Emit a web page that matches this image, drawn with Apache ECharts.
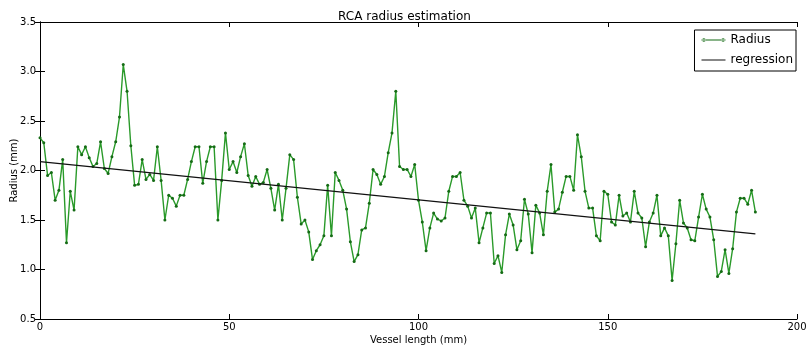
<!DOCTYPE html>
<html>
<head>
<meta charset="utf-8">
<script src="https://cdn.jsdelivr.net/npm/echarts@6/dist/echarts.min.js"></script>
<style>
  html, body { margin: 0; padding: 0; background: #fff; }
  #chart { width: 809px; height: 349px; }
</style>
</head>
<body>
<div id="chart"></div>
<script>
// radius samples, one per mm of vessel length
const radius = [
  2.33, 2.28, 1.95, 1.98, 1.70, 1.80, 2.11, 1.27, 1.79, 1.60,
  2.24, 2.16, 2.24, 2.13, 2.04, 2.07, 2.29, 2.02, 1.97, 2.14,
  2.29, 2.54, 3.07, 2.80, 2.25, 1.85, 1.86, 2.11, 1.91, 1.96,
  1.90, 2.24, 1.90, 1.50, 1.75, 1.72, 1.64, 1.75, 1.75, 1.91,
  2.09, 2.24, 2.24, 1.87, 2.09, 2.24, 2.24, 1.50, 1.90, 2.38,
  2.01, 2.09, 1.98, 2.14, 2.27, 1.95, 1.84, 1.94, 1.86, 1.88,
  2.01, 1.82, 1.60, 1.86, 1.50, 1.82, 2.16, 2.11, 1.73, 1.46,
  1.50, 1.38, 1.10, 1.19, 1.25, 1.34, 1.85, 1.34, 1.98, 1.90,
  1.80, 1.61, 1.28, 1.08, 1.15, 1.40, 1.42, 1.67, 2.01, 1.96,
  1.86, 1.94, 2.18, 2.38, 2.80, 2.04, 2.01, 2.01, 1.94, 2.06,
  1.70, 1.48, 1.19, 1.42, 1.57, 1.51, 1.49, 1.52, 1.79, 1.94,
  1.94, 1.98, 1.70, 1.64, 1.52, 1.62, 1.27, 1.42, 1.57, 1.57,
  1.06, 1.14, 0.97, 1.35, 1.56, 1.45, 1.20, 1.29, 1.71, 1.56,
  1.17, 1.65, 1.57, 1.35, 1.79, 2.06, 1.58, 1.61, 1.78, 1.94,
  1.94, 1.80, 2.36, 2.14, 1.79, 1.62, 1.62, 1.34, 1.29, 1.79,
  1.76, 1.48, 1.45, 1.75, 1.54, 1.57, 1.48, 1.79, 1.57, 1.52,
  1.23, 1.48, 1.57, 1.75, 1.34, 1.42, 1.34, 0.89, 1.26, 1.70,
  1.47, 1.42, 1.30, 1.29, 1.53, 1.76, 1.61, 1.53, 1.30, 0.93,
  0.98, 1.20, 0.96, 1.21, 1.58, 1.72, 1.72, 1.66, 1.80, 1.58
]
// fitted line end points [length, radius]
const regression = [[0, 2.09], [189, 1.36]]

const xTicks = { min: 0, max: 200, interval: 50 }
const yTicks = { min: 0.5, max: 3.5, interval: 0.5 }

const chart = echarts.init(document.getElementById('chart'), null, { renderer: 'canvas' })

const fontFamily = 'DejaVu Sans, sans-serif'
const frameAxis = {
  axisLine: { show: true, lineStyle: { color: '#000', width: 1 } },
  axisTick: { show: true, inside: true, length: 5, lineStyle: { color: '#000' } },
  splitLine: { show: false },
}

// legend icons drawn in a 24x10 box; the tiny corner marks keep the box size
const boxMarks = 'M0,0 L0.01,0 L0,0.01 Z M24,10 L23.99,10 L24,9.99 Z '
const lineIcon = 'path://' + boxMarks + 'M0,4.4 L24,4.4 L24,5.6 L0,5.6 Z'
const lineDotIcon = lineIcon +
  ' M0.6,5 A1.8,1.8 0 1,0 4.2,5 A1.8,1.8 0 1,0 0.6,5 Z' +
  ' M19.8,5 A1.8,1.8 0 1,0 23.4,5 A1.8,1.8 0 1,0 19.8,5 Z'

const option = {
  animation: false,
  backgroundColor: '#fff',
  title: {
    text: 'RCA radius estimation',
    left: 'center',
    top: 6,
    textStyle: { fontFamily, fontSize: 12, fontWeight: 'normal', color: '#000' },
  },
  grid: { left: 40, right: 12, top: 22, bottom: 30, outerBoundsMode: 'none', containLabel: false },
  legend: {
    orient: 'vertical',
    right: 13,
    top: 30,
    itemWidth: 24,
    itemHeight: 10,
    itemGap: 8,
    padding: [4, 3, 5, 7],
    borderColor: '#000',
    borderWidth: 1,
    borderRadius: 0,
    backgroundColor: '#fff',
    textStyle: { fontFamily, fontSize: 12, color: '#000' },
    data: [
      { name: 'Radius', icon: lineDotIcon },
      { name: 'regression', icon: lineIcon },
    ],
  },
  xAxis: [
    {
      type: 'value',
      ...xTicks,
      ...frameAxis,
      name: 'Vessel length (mm)',
      nameLocation: 'middle',
      nameGap: 16,
      nameMoveOverlap: false,
      nameTextStyle: { fontFamily, fontSize: 10, color: '#000' },
      axisLabel: { fontFamily, fontSize: 10, color: '#000', margin: 3 },
    },
    {
      type: 'value',
      position: 'top',
      ...xTicks,
      ...frameAxis,
      axisLabel: { show: false },
    },
  ],
  yAxis: [
    {
      type: 'value',
      ...yTicks,
      ...frameAxis,
      name: 'Radius (mm)',
      nameLocation: 'middle',
      nameGap: 21,
      nameMoveOverlap: false,
      nameTextStyle: { fontFamily, fontSize: 10, color: '#000' },
      axisLabel: {
        fontFamily, fontSize: 10, color: '#000', margin: 4,
        formatter: (v) => v.toFixed(1),
      },
    },
    {
      type: 'value',
      position: 'right',
      ...yTicks,
      ...frameAxis,
      axisLabel: { show: false },
    },
  ],
  series: [
    {
      name: 'Radius',
      type: 'line',
      data: radius.map((v, i) => [i, v]),
      symbol: 'circle',
      symbolSize: 3,
      showSymbol: true,
      lineStyle: { color: '#2a9a2a', width: 1.4 },
      itemStyle: { color: '#156b15', borderWidth: 0 },
      z: 2,
    },
    {
      name: 'regression',
      type: 'line',
      data: regression,
      symbol: 'none',
      lineStyle: { color: '#111', width: 1.2 },
      itemStyle: { color: '#111' },
      z: 3,
    },
  ],
}

chart.setOption(option)
</script>
</body>
</html>
